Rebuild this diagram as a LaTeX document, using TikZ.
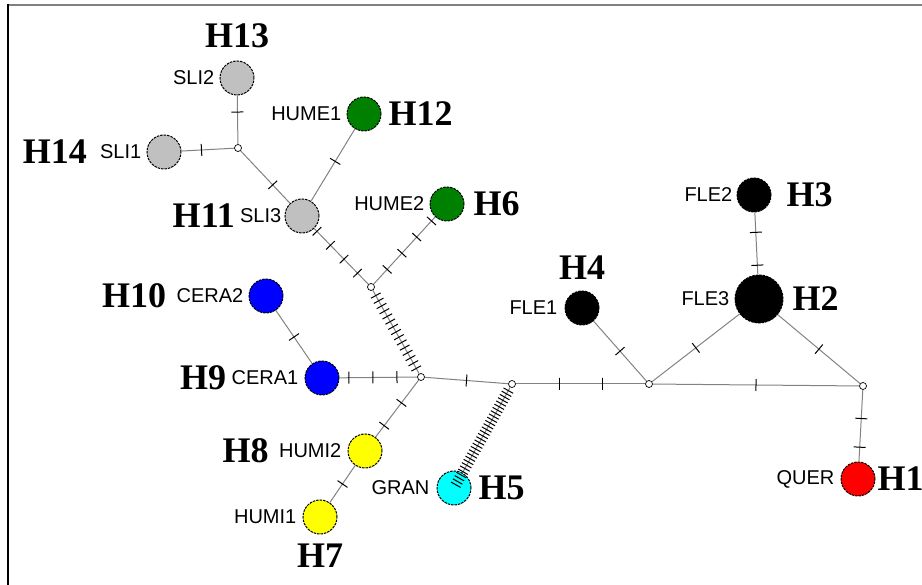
\documentclass[tikz,border=0pt]{standalone}
\usepackage{fontspec}
\setmainfont{Liberation Serif}
\newfontfamily\seqfont{Liberation Sans}
\usetikzlibrary{positioning}

\definecolor{hgray}{RGB}{192,192,192}
\definecolor{hgreen}{RGB}{0,128,0}
\definecolor{hblue}{RGB}{0,0,255}
\definecolor{hyellow}{RGB}{255,255,0}
\definecolor{hcyan}{RGB}{0,255,255}
\definecolor{hred}{RGB}{255,0,0}
\definecolor{linkgray}{RGB}{130,130,130}

\begin{document}
\begin{tikzpicture}[x=1pt,y=-1pt,
  hap/.style={circle, draw=black, dash pattern=on 2.5pt off 1pt, line width=1pt, minimum size=34pt, inner sep=0pt},
  med/.style={circle, draw=black, fill=white, line width=0.7pt, minimum size=7pt, inner sep=0pt},
  link/.style={draw=linkgray, line width=1pt},
  mut/.style={draw=black, line width=1pt, minimum width=0pt, minimum height=12pt, inner sep=0pt, sloped},
  seqlab/.style={font=\seqfont\fontsize{20}{20}\selectfont, inner sep=0pt},
  hlab/.style={font=\bfseries\fontsize{36}{36}\selectfont, inner sep=0pt},
  node distance=5pt]

\useasboundingbox (0,0) rectangle (922,585);
\draw[line width=2pt, gray] (8,5) -- (922,5);
\draw[line width=2pt] (8,4) -- (8,585);

\node[hap, fill=hgray] (sli2) at (237,78) {};
\node[hap, fill=hgray] (sli1) at (164,152) {};
\node[hap, fill=hgray] (sli3) at (302,216) {};
\node[hap, fill=hgreen] (hume1) at (364,114) {};
\node[hap, fill=hgreen] (hume2) at (447,204) {};
\node[hap, fill=hblue] (cera2) at (266,296) {};
\node[hap, fill=hblue] (cera1) at (322,378) {};
\node[hap, fill=hyellow] (humi2) at (365,451) {};
\node[hap, fill=hyellow] (humi1) at (320,517) {};
\node[hap, fill=hcyan] (gran) at (454,488) {};
\node[hap, fill=black] (fle1) at (582,308) {};
\node[hap, fill=black] (fle2) at (754,195) {};
\node[hap, fill=black, minimum size=48pt] (fle3) at (759,299) {};
\node[hap, fill=hred] (quer) at (858,479) {};

\node[med] (j1) at (238,148) {};
\node[med] (j2) at (371,287) {};
\node[med] (hub) at (421,377) {};
\node[med] (j4) at (512,384) {};
\node[med] (j5) at (649,384) {};
\node[med] (j6) at (863,386) {};

\draw[link] (sli2) -- (j1) node[mut,pos=0.34] {};
\draw[link] (sli1) -- (j1) node[mut,pos=0.38] {};
\draw[link] (j1) -- (sli3) node[mut,pos=0.65] {};
\draw[link] (hume1) -- (sli3) node[mut,pos=0.45] {};
\draw[link] (sli3) -- (j2) node[mut,pos=0.05] {} node[mut,pos=0.3] {} node[mut,pos=0.55] {} node[mut,pos=0.8] {};
\draw[link] (hume2) -- (j2) node[mut,pos=0.06] {} node[mut,pos=0.3] {} node[mut,pos=0.54] {} node[mut,pos=0.78] {};
\draw[link] (j2) -- (hub);
\foreach \i [evaluate=\i as \p using \i/16] in {1,...,15}
  \path (j2) -- (hub) node[mut,pos=\p,minimum height=11pt] {};
\draw[link] (cera2) -- (cera1) node[mut,pos=0.5] {};
\draw[link] (cera1) -- (hub) node[mut,pos=0.12] {} node[mut,pos=0.43] {} node[mut,pos=0.74] {};
\draw[link] (hub) -- (humi2) node[mut,pos=0.4] {} node[mut,pos=0.8] {};
\draw[link] (humi2) -- (humi1) node[mut,pos=0.5] {};
\draw[link] (hub) -- (j4) node[mut,pos=0.5] {};
\draw[link] (j4) -- (gran);
\foreach \i [evaluate=\i as \p using \i/31] in {1,...,30}
  \path (j4) -- (gran.center) node[mut,pos=\p,minimum height=11pt] {};
\draw[link] (j4) -- (j5) node[mut,pos=0.34] {} node[mut,pos=0.67] {};
\draw[link] (j5) -- (fle1) node[mut,pos=0.5] {};
\draw[link] (j5) -- (fle3) node[mut,pos=0.5] {};
\draw[link] (j5) -- (j6) node[mut,pos=0.5] {};
\draw[link] (fle3) -- (j6) node[mut,pos=0.5] {};
\draw[link] (fle2) -- (fle3) node[mut,pos=0.32] {} node[mut,pos=0.85] {};
\draw[link] (j6) -- (quer) node[mut,pos=0.4] {} node[mut,pos=0.8] {};

\node[seqlab, left=of sli2] (sli2lab) {SLI2};
\node[seqlab, left=of sli1] (sli1lab) {SLI1};
\node[seqlab, left=3pt of sli3] (sli3lab) {SLI3};
\node[seqlab, left=of hume1] (hume1lab) {HUME1};
\node[seqlab, left=of hume2] (hume2lab) {HUME2};
\node[seqlab, left=of cera2] (cera2lab) {CERA2};
\node[seqlab, left=6pt of cera1] (cera1lab) {CERA1};
\node[seqlab, left=6pt of humi2] (humi2lab) {HUMI2};
\node[seqlab, left=6pt of humi1] (humi1lab) {HUMI1};
\node[seqlab, left=7pt of gran] (granlab) {GRAN};
\node[seqlab, left=7pt of fle1] (fle1lab) {FLE1};
\node[seqlab, left=4pt of fle2] (fle2lab) {FLE2};
\node[seqlab, left=of fle3] (fle3lab) {FLE3};
\node[seqlab, left=6pt of quer] (querlab) {QUER};

\node[hlab, above=12pt of sli2] (h13) {H13};
\node[hlab, left=13pt of sli1lab] (h14) {H14};
\node[hlab, right=7pt of hume1] (h12) {H12};
\node[hlab, left=5pt of sli3lab] (h11) {H11};
\node[hlab, right=9pt of hume2] (h6) {H6};
\node[hlab, left=10pt of cera2lab] (h10) {H10};
\node[hlab, left=5pt of cera1lab] (h9) {H9};
\node[hlab, left=10pt of humi2lab] (h8) {H8};
\node[hlab, below=9pt of humi1] (h7) {H7};
\node[hlab, right=7pt of gran] (h5) {H5};
\node[hlab, above=11pt of fle1] (h4) {H4};
\node[hlab, right=15pt of fle2] (h3) {H3};
\node[hlab, right=9pt of fle3] (h2) {H2};
\node[hlab, right=2pt of quer] (h1) {H1};

\end{tikzpicture}
\end{document}
